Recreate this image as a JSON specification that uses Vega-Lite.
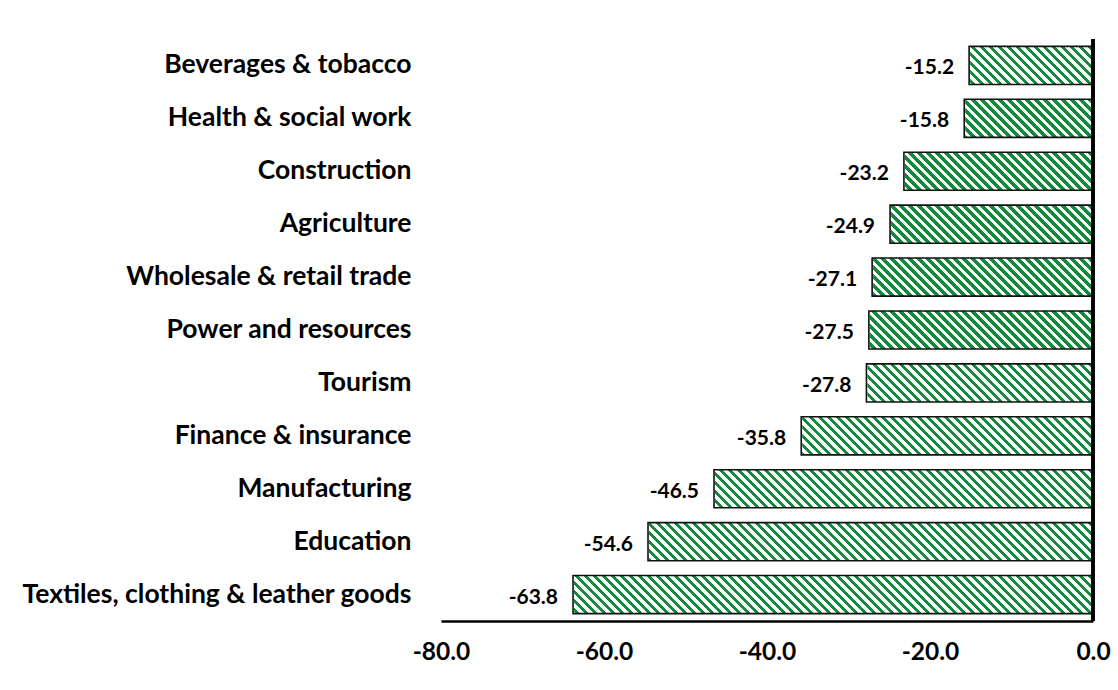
{
  "$schema": "https://vega.github.io/schema/vega-lite/v6.json",
  "width": 652,
  "height": 582,
  "autosize": {"type": "none"},
  "padding": {"left": 441, "top": 39, "right": 25, "bottom": 69},
  "background": "white",
  "config": {
    "view": {"stroke": null},
    "font": "Lato",
    "locale": {"number": {"decimal": ".", "thousands": ",", "grouping": [3], "currency": ["$", ""], "minus": "-"}}
  },
  "data": {
    "values": [
      {"sector": "Beverages & tobacco", "value": -15.2},
      {"sector": "Health & social work", "value": -15.8},
      {"sector": "Construction", "value": -23.2},
      {"sector": "Agriculture", "value": -24.9},
      {"sector": "Wholesale & retail trade", "value": -27.1},
      {"sector": "Power and resources", "value": -27.5},
      {"sector": "Tourism", "value": -27.8},
      {"sector": "Finance & insurance", "value": -35.8},
      {"sector": "Manufacturing", "value": -46.5},
      {"sector": "Education", "value": -54.6},
      {"sector": "Textiles, clothing & leather goods", "value": -63.8}
    ]
  },
  "layer": [
    {
      "mark": {
        "type": "bar",
        "strokeWidth": 0,
        "fill": {
          "gradient": "linear",
          "x1": 0, "y1": 1, "x2": 1.37566, "y2": 0.919633,
          "stops": [
            {"offset":0,"color":"#118a3c"},{"offset":0.005,"color":"#118a3c"},{"offset":0.005,"color":"#fff"},{"offset":0.01,"color":"#fff"},
            {"offset":0.01,"color":"#118a3c"},{"offset":0.015,"color":"#118a3c"},{"offset":0.015,"color":"#fff"},{"offset":0.02,"color":"#fff"},
            {"offset":0.02,"color":"#118a3c"},{"offset":0.025,"color":"#118a3c"},{"offset":0.025,"color":"#fff"},{"offset":0.03,"color":"#fff"},
            {"offset":0.03,"color":"#118a3c"},{"offset":0.035,"color":"#118a3c"},{"offset":0.035,"color":"#fff"},{"offset":0.04,"color":"#fff"},
            {"offset":0.04,"color":"#118a3c"},{"offset":0.045,"color":"#118a3c"},{"offset":0.045,"color":"#fff"},{"offset":0.05,"color":"#fff"},
            {"offset":0.05,"color":"#118a3c"},{"offset":0.055,"color":"#118a3c"},{"offset":0.055,"color":"#fff"},{"offset":0.06,"color":"#fff"},
            {"offset":0.06,"color":"#118a3c"},{"offset":0.065,"color":"#118a3c"},{"offset":0.065,"color":"#fff"},{"offset":0.07,"color":"#fff"},
            {"offset":0.07,"color":"#118a3c"},{"offset":0.075,"color":"#118a3c"},{"offset":0.075,"color":"#fff"},{"offset":0.08,"color":"#fff"},
            {"offset":0.08,"color":"#118a3c"},{"offset":0.085,"color":"#118a3c"},{"offset":0.085,"color":"#fff"},{"offset":0.09,"color":"#fff"},
            {"offset":0.09,"color":"#118a3c"},{"offset":0.095,"color":"#118a3c"},{"offset":0.095,"color":"#fff"},{"offset":0.10,"color":"#fff"},
            {"offset":0.10,"color":"#118a3c"},{"offset":0.105,"color":"#118a3c"},{"offset":0.105,"color":"#fff"},{"offset":0.11,"color":"#fff"},
            {"offset":0.11,"color":"#118a3c"},{"offset":0.115,"color":"#118a3c"},{"offset":0.115,"color":"#fff"},{"offset":0.12,"color":"#fff"},
            {"offset":0.12,"color":"#118a3c"},{"offset":0.125,"color":"#118a3c"},{"offset":0.125,"color":"#fff"},{"offset":0.13,"color":"#fff"},
            {"offset":0.13,"color":"#118a3c"},{"offset":0.135,"color":"#118a3c"},{"offset":0.135,"color":"#fff"},{"offset":0.14,"color":"#fff"},
            {"offset":0.14,"color":"#118a3c"},{"offset":0.145,"color":"#118a3c"},{"offset":0.145,"color":"#fff"},{"offset":0.15,"color":"#fff"},
            {"offset":0.15,"color":"#118a3c"},{"offset":0.155,"color":"#118a3c"},{"offset":0.155,"color":"#fff"},{"offset":0.16,"color":"#fff"},
            {"offset":0.16,"color":"#118a3c"},{"offset":0.165,"color":"#118a3c"},{"offset":0.165,"color":"#fff"},{"offset":0.17,"color":"#fff"},
            {"offset":0.17,"color":"#118a3c"},{"offset":0.175,"color":"#118a3c"},{"offset":0.175,"color":"#fff"},{"offset":0.18,"color":"#fff"},
            {"offset":0.18,"color":"#118a3c"},{"offset":0.185,"color":"#118a3c"},{"offset":0.185,"color":"#fff"},{"offset":0.19,"color":"#fff"},
            {"offset":0.19,"color":"#118a3c"},{"offset":0.195,"color":"#118a3c"},{"offset":0.195,"color":"#fff"},{"offset":0.20,"color":"#fff"},
            {"offset":0.20,"color":"#118a3c"},{"offset":0.205,"color":"#118a3c"},{"offset":0.205,"color":"#fff"},{"offset":0.21,"color":"#fff"},
            {"offset":0.21,"color":"#118a3c"},{"offset":0.215,"color":"#118a3c"},{"offset":0.215,"color":"#fff"},{"offset":0.22,"color":"#fff"},
            {"offset":0.22,"color":"#118a3c"},{"offset":0.225,"color":"#118a3c"},{"offset":0.225,"color":"#fff"},{"offset":0.23,"color":"#fff"},
            {"offset":0.23,"color":"#118a3c"},{"offset":0.235,"color":"#118a3c"},{"offset":0.235,"color":"#fff"},{"offset":0.24,"color":"#fff"},
            {"offset":0.24,"color":"#118a3c"},{"offset":0.245,"color":"#118a3c"},{"offset":0.245,"color":"#fff"},{"offset":0.25,"color":"#fff"},
            {"offset":0.25,"color":"#118a3c"},{"offset":0.255,"color":"#118a3c"},{"offset":0.255,"color":"#fff"},{"offset":0.26,"color":"#fff"},
            {"offset":0.26,"color":"#118a3c"},{"offset":0.265,"color":"#118a3c"},{"offset":0.265,"color":"#fff"},{"offset":0.27,"color":"#fff"},
            {"offset":0.27,"color":"#118a3c"},{"offset":0.275,"color":"#118a3c"},{"offset":0.275,"color":"#fff"},{"offset":0.28,"color":"#fff"},
            {"offset":0.28,"color":"#118a3c"},{"offset":0.285,"color":"#118a3c"},{"offset":0.285,"color":"#fff"},{"offset":0.29,"color":"#fff"},
            {"offset":0.29,"color":"#118a3c"},{"offset":0.295,"color":"#118a3c"},{"offset":0.295,"color":"#fff"},{"offset":0.30,"color":"#fff"},
            {"offset":0.30,"color":"#118a3c"},{"offset":0.305,"color":"#118a3c"},{"offset":0.305,"color":"#fff"},{"offset":0.31,"color":"#fff"},
            {"offset":0.31,"color":"#118a3c"},{"offset":0.315,"color":"#118a3c"},{"offset":0.315,"color":"#fff"},{"offset":0.32,"color":"#fff"},
            {"offset":0.32,"color":"#118a3c"},{"offset":0.325,"color":"#118a3c"},{"offset":0.325,"color":"#fff"},{"offset":0.33,"color":"#fff"},
            {"offset":0.33,"color":"#118a3c"},{"offset":0.335,"color":"#118a3c"},{"offset":0.335,"color":"#fff"},{"offset":0.34,"color":"#fff"},
            {"offset":0.34,"color":"#118a3c"},{"offset":0.345,"color":"#118a3c"},{"offset":0.345,"color":"#fff"},{"offset":0.35,"color":"#fff"},
            {"offset":0.35,"color":"#118a3c"},{"offset":0.355,"color":"#118a3c"},{"offset":0.355,"color":"#fff"},{"offset":0.36,"color":"#fff"},
            {"offset":0.36,"color":"#118a3c"},{"offset":0.365,"color":"#118a3c"},{"offset":0.365,"color":"#fff"},{"offset":0.37,"color":"#fff"},
            {"offset":0.37,"color":"#118a3c"},{"offset":0.375,"color":"#118a3c"},{"offset":0.375,"color":"#fff"},{"offset":0.38,"color":"#fff"},
            {"offset":0.38,"color":"#118a3c"},{"offset":0.385,"color":"#118a3c"},{"offset":0.385,"color":"#fff"},{"offset":0.39,"color":"#fff"},
            {"offset":0.39,"color":"#118a3c"},{"offset":0.395,"color":"#118a3c"},{"offset":0.395,"color":"#fff"},{"offset":0.40,"color":"#fff"},
            {"offset":0.40,"color":"#118a3c"},{"offset":0.405,"color":"#118a3c"},{"offset":0.405,"color":"#fff"},{"offset":0.41,"color":"#fff"},
            {"offset":0.41,"color":"#118a3c"},{"offset":0.415,"color":"#118a3c"},{"offset":0.415,"color":"#fff"},{"offset":0.42,"color":"#fff"},
            {"offset":0.42,"color":"#118a3c"},{"offset":0.425,"color":"#118a3c"},{"offset":0.425,"color":"#fff"},{"offset":0.43,"color":"#fff"},
            {"offset":0.43,"color":"#118a3c"},{"offset":0.435,"color":"#118a3c"},{"offset":0.435,"color":"#fff"},{"offset":0.44,"color":"#fff"},
            {"offset":0.44,"color":"#118a3c"},{"offset":0.445,"color":"#118a3c"},{"offset":0.445,"color":"#fff"},{"offset":0.45,"color":"#fff"},
            {"offset":0.45,"color":"#118a3c"},{"offset":0.455,"color":"#118a3c"},{"offset":0.455,"color":"#fff"},{"offset":0.46,"color":"#fff"},
            {"offset":0.46,"color":"#118a3c"},{"offset":0.465,"color":"#118a3c"},{"offset":0.465,"color":"#fff"},{"offset":0.47,"color":"#fff"},
            {"offset":0.47,"color":"#118a3c"},{"offset":0.475,"color":"#118a3c"},{"offset":0.475,"color":"#fff"},{"offset":0.48,"color":"#fff"},
            {"offset":0.48,"color":"#118a3c"},{"offset":0.485,"color":"#118a3c"},{"offset":0.485,"color":"#fff"},{"offset":0.49,"color":"#fff"},
            {"offset":0.49,"color":"#118a3c"},{"offset":0.495,"color":"#118a3c"},{"offset":0.495,"color":"#fff"},{"offset":0.50,"color":"#fff"},
            {"offset":0.50,"color":"#118a3c"},{"offset":0.505,"color":"#118a3c"},{"offset":0.505,"color":"#fff"},{"offset":0.51,"color":"#fff"},
            {"offset":0.51,"color":"#118a3c"},{"offset":0.515,"color":"#118a3c"},{"offset":0.515,"color":"#fff"},{"offset":0.52,"color":"#fff"},
            {"offset":0.52,"color":"#118a3c"},{"offset":0.525,"color":"#118a3c"},{"offset":0.525,"color":"#fff"},{"offset":0.53,"color":"#fff"},
            {"offset":0.53,"color":"#118a3c"},{"offset":0.535,"color":"#118a3c"},{"offset":0.535,"color":"#fff"},{"offset":0.54,"color":"#fff"},
            {"offset":0.54,"color":"#118a3c"},{"offset":0.545,"color":"#118a3c"},{"offset":0.545,"color":"#fff"},{"offset":0.55,"color":"#fff"},
            {"offset":0.55,"color":"#118a3c"},{"offset":0.555,"color":"#118a3c"},{"offset":0.555,"color":"#fff"},{"offset":0.56,"color":"#fff"},
            {"offset":0.56,"color":"#118a3c"},{"offset":0.565,"color":"#118a3c"},{"offset":0.565,"color":"#fff"},{"offset":0.57,"color":"#fff"},
            {"offset":0.57,"color":"#118a3c"},{"offset":0.575,"color":"#118a3c"},{"offset":0.575,"color":"#fff"},{"offset":0.58,"color":"#fff"},
            {"offset":0.58,"color":"#118a3c"},{"offset":0.585,"color":"#118a3c"},{"offset":0.585,"color":"#fff"},{"offset":0.59,"color":"#fff"},
            {"offset":0.59,"color":"#118a3c"},{"offset":0.595,"color":"#118a3c"},{"offset":0.595,"color":"#fff"},{"offset":0.60,"color":"#fff"},
            {"offset":0.60,"color":"#118a3c"},{"offset":0.605,"color":"#118a3c"},{"offset":0.605,"color":"#fff"},{"offset":0.61,"color":"#fff"},
            {"offset":0.61,"color":"#118a3c"},{"offset":0.615,"color":"#118a3c"},{"offset":0.615,"color":"#fff"},{"offset":0.62,"color":"#fff"},
            {"offset":0.62,"color":"#118a3c"},{"offset":0.625,"color":"#118a3c"},{"offset":0.625,"color":"#fff"},{"offset":0.63,"color":"#fff"},
            {"offset":0.63,"color":"#118a3c"},{"offset":0.635,"color":"#118a3c"},{"offset":0.635,"color":"#fff"},{"offset":0.64,"color":"#fff"},
            {"offset":0.64,"color":"#118a3c"},{"offset":0.645,"color":"#118a3c"},{"offset":0.645,"color":"#fff"},{"offset":0.65,"color":"#fff"},
            {"offset":0.65,"color":"#118a3c"},{"offset":0.655,"color":"#118a3c"},{"offset":0.655,"color":"#fff"},{"offset":0.66,"color":"#fff"},
            {"offset":0.66,"color":"#118a3c"},{"offset":0.665,"color":"#118a3c"},{"offset":0.665,"color":"#fff"},{"offset":0.67,"color":"#fff"},
            {"offset":0.67,"color":"#118a3c"},{"offset":0.675,"color":"#118a3c"},{"offset":0.675,"color":"#fff"},{"offset":0.68,"color":"#fff"},
            {"offset":0.68,"color":"#118a3c"},{"offset":0.685,"color":"#118a3c"},{"offset":0.685,"color":"#fff"},{"offset":0.69,"color":"#fff"},
            {"offset":0.69,"color":"#118a3c"},{"offset":0.695,"color":"#118a3c"},{"offset":0.695,"color":"#fff"},{"offset":0.70,"color":"#fff"},
            {"offset":0.70,"color":"#118a3c"},{"offset":0.705,"color":"#118a3c"},{"offset":0.705,"color":"#fff"},{"offset":0.71,"color":"#fff"},
            {"offset":0.71,"color":"#118a3c"},{"offset":0.715,"color":"#118a3c"},{"offset":0.715,"color":"#fff"},{"offset":0.72,"color":"#fff"},
            {"offset":0.72,"color":"#118a3c"},{"offset":0.725,"color":"#118a3c"},{"offset":0.725,"color":"#fff"},{"offset":0.73,"color":"#fff"},
            {"offset":0.73,"color":"#118a3c"},{"offset":0.735,"color":"#118a3c"},{"offset":0.735,"color":"#fff"},{"offset":0.74,"color":"#fff"},
            {"offset":0.74,"color":"#118a3c"},{"offset":0.745,"color":"#118a3c"},{"offset":0.745,"color":"#fff"},{"offset":0.75,"color":"#fff"},
            {"offset":0.75,"color":"#118a3c"},{"offset":0.755,"color":"#118a3c"},{"offset":0.755,"color":"#fff"},{"offset":0.76,"color":"#fff"},
            {"offset":0.76,"color":"#118a3c"},{"offset":0.765,"color":"#118a3c"},{"offset":0.765,"color":"#fff"},{"offset":0.77,"color":"#fff"}
          ]
        }
      },
      "encoding": {
        "y": {
          "field": "sector", "type": "nominal", "sort": null,
          "scale": {"paddingInner": 0.28, "paddingOuter": 0.14},
          "axis": {
            "title": null, "domain": false, "ticks": false, "labelPadding": 30,
            "labelFont": "Lato", "labelFontWeight": "bold", "labelFontSize": 26.5,
            "labelColor": "black", "labelLimit": 700
          }
        },
        "x": {
          "datum": -80, "type": "quantitative",
          "scale": {"domain": [-80, 0], "nice": false, "zero": true},
          "axis": {
            "title": null, "values": [-80, -60, -40, -20, 0], "format": ".1f",
            "domainColor": "black", "domainWidth": 2.5, "ticks": false, "grid": false,
            "labelFlush": false, "labelOverlap": false,
            "labelPadding": 19, "labelFont": "Lato", "labelFontWeight": "bold",
            "labelFontSize": 24.5, "labelColor": "black"
          }
        }
      }
    },
    {
      "mark": {"type": "bar", "fill": "white", "stroke": "white", "strokeWidth": 2},
      "encoding": {
        "y": {"field": "sector", "type": "nominal", "sort": null},
        "x": {"field": "value", "type": "quantitative"},
        "x2": {"datum": -80}
      }
    },
    {
      "mark": {"type": "bar", "fill": "transparent", "stroke": "#111111", "strokeWidth": 1.6},
      "encoding": {
        "y": {"field": "sector", "type": "nominal", "sort": null},
        "x": {"field": "value", "type": "quantitative"}
      }
    },
    {
      "mark": {
        "type": "text", "align": "right", "baseline": "middle", "dx": -15, "dy": 3,
        "font": "Lato", "fontWeight": "bold", "fontSize": 21, "color": "black"
      },
      "encoding": {
        "y": {"field": "sector", "type": "nominal", "sort": null},
        "x": {"field": "value", "type": "quantitative"},
        "text": {"field": "value", "type": "quantitative", "format": ".1f"}
      }
    },
    {
      "mark": {"type": "rule", "color": "black", "strokeWidth": 2.5},
      "encoding": {"x": {"datum": 0, "type": "quantitative"}}
    }
  ]
}
